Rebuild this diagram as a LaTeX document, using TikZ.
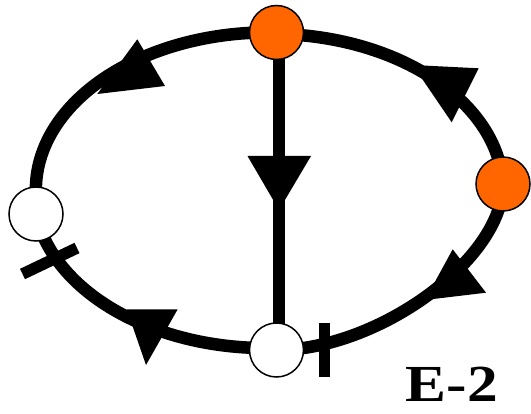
\documentclass[tikz,border=0pt]{standalone}
\usepackage{fontspec}
\setmainfont{Liberation Serif}
\usetikzlibrary{backgrounds}
\definecolor{vorange}{HTML}{FF6600}
\begin{document}
\begin{tikzpicture}[x=1pt,y=-1pt,
  ring/.style={line width=12.5pt, draw=black},
  ahead/.style={fill=black},
  cutmark/.style={line width=11.5pt, draw=black, line cap=butt},
  vtx/.style={circle, draw=black, line width=1.5pt, minimum size=54pt, inner sep=0pt},
  hot/.style={vtx, fill=vorange},
  cold/.style={vtx, fill=white},
  lbl/.style={anchor=base west, inner sep=0pt, font=\bfseries\fontsize{52}{52}\selectfont}]
\useasboundingbox (0,0) rectangle (531,414);
% vertices
\node[hot]  (top)   at (276.5,32.5) {};
\node[hot]  (right) at (503,184) {};
\node[cold] (left)  at (36,214) {};
\node[cold] (bot)   at (276.5,350) {};
\begin{scope}[on background layer]
  % ring through the vertices
  \draw[ring] (top.center) arc[start angle=272, end angle=171.6, x radius=232.5, y radius=157];
  \draw[ring] (left.center) arc[start angle=171.6, end angle=88, x radius=232.5, y radius=157];
  \draw[ring] (bot.center) .. controls +(102,0) and +(0,75) .. (right.center);
  \draw[ring] (right.center) arc[start angle=357.5, end angle=272, x radius=232.5, y radius=157];
  % chord
  \draw[ring] ([xshift=2.5pt]top.center) -- ([xshift=2.5pt]bot.center);
  % arrowheads
  \fill[ahead] (247.5,156) -- (311,156) -- (279,210) -- cycle;
  \fill[ahead] (137.3,39.3) -- (165,86) -- (97.3,94) -- cycle;
  \fill[ahead] (412.7,65) -- (478.7,68.3) -- (451.7,122.3) -- cycle;
  \fill[ahead] (452.7,249.3) -- (486,292.7) -- (425,300) -- cycle;
  \fill[ahead] (126.7,309.3) -- (177.7,309.3) -- (146,365) -- cycle;
  % cut marks
  \coordinate (cutLa) at (22.5,274);
  \coordinate (cutLb) at (77,248);
  \coordinate (cutBa) at (324.5,323);
  \coordinate (cutBb) at (324.5,377);
  \draw[cutmark] (cutLa) -- (cutLb);
  \draw[cutmark] (cutBa) -- (cutBb);
\end{scope}
\node[lbl] (name) at (405.5,401.7) {\scalebox{1.18}[1]{E-2}};
\end{tikzpicture}
\end{document}
